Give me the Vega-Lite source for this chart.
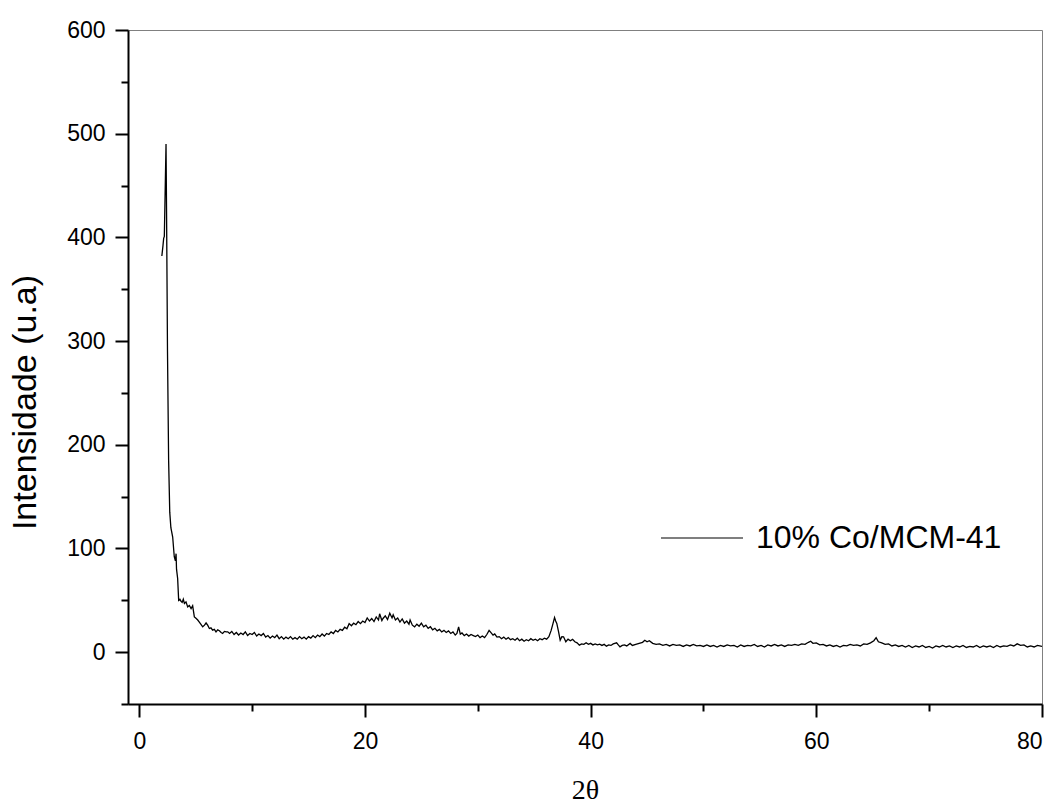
{
  "$schema": "https://vega.github.io/schema/vega-lite/v6.json",
  "width": 914,
  "height": 674,
  "autosize": {"type": "none"},
  "padding": {"left": 128, "top": 30, "right": 18, "bottom": 101},
  "background": "white",
  "config": {
    "view": {"stroke": "#808080", "strokeWidth": 1},
    "font": "Liberation Sans"
  },
  "data": {"values": [
    {"x":2.0,"y":382},{"x":2.1,"y":392},{"x":2.16,"y":399},{"x":2.22,"y":401},{"x":2.37,"y":490},{"x":2.42,"y":420},{"x":2.5,"y":290},{"x":2.6,"y":185},{"x":2.7,"y":135},{"x":2.8,"y":120},{"x":2.96,"y":111},{"x":3.1,"y":92},{"x":3.2,"y":88},{"x":3.26,"y":95},{"x":3.3,"y":80},{"x":3.4,"y":71},{"x":3.49,"y":50},{"x":3.6,"y":51},{"x":3.7,"y":49},{"x":3.8,"y":48},{"x":3.9,"y":51},{"x":4.0,"y":47},{"x":4.14,"y":48.5},{"x":4.29,"y":43.7},{"x":4.44,"y":45},{"x":4.59,"y":42},{"x":4.73,"y":44.7},{"x":4.88,"y":34},{"x":5.0,"y":33},{"x":5.18,"y":31},{"x":5.32,"y":29},{"x":5.45,"y":27},{"x":5.62,"y":24.4},{"x":5.78,"y":26},{"x":5.92,"y":28.3},{"x":6.06,"y":26},{"x":6.21,"y":22.8},{"x":6.35,"y":23.5},{"x":6.5,"y":21.2},{"x":6.65,"y":22},{"x":6.8,"y":19.6},{"x":6.95,"y":21.5},{"x":7.1,"y":20.6},{"x":7.25,"y":19},{"x":7.39,"y":18},{"x":7.55,"y":20},{"x":7.7,"y":19.6},{"x":7.84,"y":19.6},
    {"x":8.0,"y":18},{"x":8.2,"y":20},{"x":8.4,"y":17},{"x":8.6,"y":19},{"x":8.8,"y":16.5},{"x":9.0,"y":18.5},{"x":9.2,"y":17},{"x":9.4,"y":19.5},{"x":9.6,"y":16},{"x":9.8,"y":18},{"x":10.0,"y":17},{"x":10.2,"y":19},{"x":10.4,"y":15.5},{"x":10.6,"y":17.5},{"x":10.8,"y":16},{"x":11.0,"y":18},{"x":11.2,"y":14.5},{"x":11.4,"y":16},{"x":11.6,"y":13.5},{"x":11.8,"y":15.5},{"x":12.0,"y":14},{"x":12.2,"y":16.5},{"x":12.4,"y":13},{"x":12.6,"y":15},{"x":12.8,"y":12.5},{"x":13.0,"y":14.5},{"x":13.2,"y":13},{"x":13.4,"y":15},{"x":13.6,"y":12.5},{"x":13.8,"y":14},{"x":14.0,"y":12.5},{"x":14.2,"y":15},{"x":14.4,"y":13},{"x":14.6,"y":14.5},{"x":14.8,"y":12.5},{"x":15.0,"y":15},{"x":15.2,"y":13.5},{"x":15.4,"y":16},{"x":15.6,"y":14},{"x":15.8,"y":16.5},{"x":16.0,"y":15},{"x":16.2,"y":17.5},{"x":16.4,"y":15.5},{"x":16.6,"y":18},{"x":16.8,"y":17},{"x":17.0,"y":19.5},{"x":17.2,"y":18},{"x":17.4,"y":21},{"x":17.6,"y":19.5},{"x":17.8,"y":22},{"x":18.0,"y":21},{"x":18.2,"y":24},{"x":18.4,"y":22.5},{"x":18.6,"y":27.5},{"x":18.8,"y":25.5},{"x":19.0,"y":28},{"x":19.2,"y":26.5},{"x":19.4,"y":29.5},{"x":19.6,"y":27.5},{"x":19.8,"y":30},{"x":20.0,"y":28.5},{"x":20.2,"y":33},{"x":20.4,"y":30},{"x":20.6,"y":32.5},{"x":20.8,"y":29.5},{"x":21.0,"y":34},{"x":21.2,"y":31},{"x":21.3,"y":37},{"x":21.5,"y":30.5},{"x":21.6,"y":32.5},{"x":21.8,"y":35},{"x":22.0,"y":31.5},{"x":22.2,"y":37.5},{"x":22.4,"y":33},{"x":22.5,"y":36},{"x":22.7,"y":31},{"x":22.9,"y":33},{"x":23.1,"y":29},{"x":23.3,"y":32},{"x":23.5,"y":28},{"x":23.7,"y":30},{"x":23.9,"y":27},{"x":24.0,"y":31},{"x":24.2,"y":26},{"x":24.4,"y":24.4},{"x":24.6,"y":27},{"x":24.8,"y":25},{"x":25.0,"y":28},{"x":25.2,"y":24.5},{"x":25.4,"y":26},{"x":25.6,"y":23},{"x":25.8,"y":24.5},{"x":26.0,"y":21.5},{"x":26.2,"y":23},{"x":26.4,"y":20.5},{"x":26.6,"y":22},{"x":26.8,"y":19.5},{"x":27.0,"y":21},{"x":27.2,"y":19},{"x":27.4,"y":20.5},{"x":27.6,"y":18},{"x":27.8,"y":19.5},{"x":28.0,"y":16.5},{"x":28.15,"y":18},{"x":28.3,"y":24.4},{"x":28.45,"y":17.4},{"x":28.6,"y":18.5},{"x":28.8,"y":16},{"x":29.0,"y":17.5},{"x":29.2,"y":15.5},{"x":29.4,"y":17},{"x":29.6,"y":16},{"x":29.8,"y":15},{"x":30.0,"y":16.5},{"x":30.2,"y":14},{"x":30.4,"y":15.5},{"x":30.6,"y":14},{"x":30.8,"y":17},{"x":31.0,"y":21},{"x":31.15,"y":19},{"x":31.35,"y":16.4},{"x":31.5,"y":17.5},{"x":31.7,"y":14.5},{"x":31.9,"y":15},{"x":32.1,"y":13},{"x":32.3,"y":14.5},{"x":32.5,"y":12.5},{"x":32.7,"y":14},{"x":32.9,"y":12},{"x":33.1,"y":13},{"x":33.3,"y":11.5},{"x":33.5,"y":13.5},{"x":33.7,"y":11},{"x":33.9,"y":12.5},{"x":34.1,"y":10.5},{"x":34.3,"y":12},{"x":34.5,"y":11},{"x":34.7,"y":13},{"x":34.9,"y":11.5},{"x":35.1,"y":12.5},{"x":35.3,"y":11},{"x":35.5,"y":13},{"x":35.7,"y":12},{"x":35.9,"y":13.5},{"x":36.1,"y":12.5},{"x":36.3,"y":15},{"x":36.5,"y":21},{"x":36.65,"y":27},{"x":36.8,"y":33.4},{"x":36.9,"y":30},{"x":37.0,"y":27.7},{"x":37.15,"y":20},{"x":37.3,"y":11.6},{"x":37.45,"y":15},{"x":37.6,"y":14.8},{"x":37.8,"y":10},{"x":38.0,"y":12.5},{"x":38.2,"y":11},{"x":38.4,"y":12.3},{"x":38.6,"y":10},{"x":38.8,"y":9},{"x":39.0,"y":6.8},{"x":39.2,"y":8},{"x":39.4,"y":7.5},{"x":39.6,"y":9},{"x":39.8,"y":7.5},{"x":40.0,"y":8.5},{"x":40.2,"y":7},{"x":40.4,"y":8},{"x":40.6,"y":7},{"x":40.8,"y":7.7},{"x":41.0,"y":6.5},{"x":41.2,"y":7.5},{"x":41.4,"y":5.8},{"x":41.6,"y":7},{"x":41.8,"y":6.5},{"x":42.0,"y":8},{"x":42.3,"y":9},{"x":42.45,"y":7},{"x":42.6,"y":5.1},{"x":42.8,"y":6.5},{"x":43.0,"y":7},{"x":43.2,"y":6},{"x":43.5,"y":8.4},{"x":43.7,"y":6.5},{"x":44.0,"y":7.5},
    {"x":44.3,"y":8.5},{"x":44.6,"y":9.5},{"x":44.8,"y":11.5},{"x":45.0,"y":10},{"x":45.2,"y":11},{"x":45.5,"y":8.5},{"x":45.8,"y":7.5},{"x":46.1,"y":8},{"x":46.4,"y":6.5},{"x":46.7,"y":7.5},{"x":47.0,"y":6},{"x":47.3,"y":7.5},{"x":47.6,"y":6.5},{"x":47.9,"y":7},{"x":48.2,"y":5.5},{"x":48.5,"y":7},{"x":48.8,"y":6},{"x":49.1,"y":7.5},{"x":49.4,"y":6},{"x":49.7,"y":6.5},{"x":50.0,"y":5.5},{"x":50.3,"y":7},{"x":50.6,"y":5.5},{"x":50.9,"y":6.5},{"x":51.2,"y":5},{"x":51.5,"y":6.5},{"x":51.8,"y":5.5},{"x":52.1,"y":7},{"x":52.4,"y":6},{"x":52.7,"y":6.5},{"x":53.0,"y":5},{"x":53.3,"y":7},{"x":53.6,"y":5.5},{"x":53.9,"y":6.5},{"x":54.2,"y":6},{"x":54.5,"y":7.5},{"x":54.8,"y":5.5},{"x":55.1,"y":6.5},{"x":55.4,"y":5},{"x":55.7,"y":7},{"x":56.0,"y":6},{"x":56.3,"y":7.5},{"x":56.6,"y":6},{"x":56.9,"y":7},{"x":57.2,"y":5.5},{"x":57.5,"y":7},{"x":57.8,"y":6.5},{"x":58.1,"y":7.5},{"x":58.4,"y":6.5},{"x":58.7,"y":8},{"x":59.0,"y":7.5},{"x":59.3,"y":9.5},{"x":59.5,"y":10.5},{"x":59.7,"y":8.5},{"x":60.0,"y":9},{"x":60.3,"y":7},{"x":60.6,"y":7.5},{"x":60.9,"y":6},{"x":61.2,"y":7},{"x":61.5,"y":5.5},{"x":61.8,"y":6.5},{"x":62.1,"y":5},{"x":62.4,"y":6.5},{"x":62.7,"y":6},{"x":63.0,"y":7.5},{"x":63.3,"y":6.5},{"x":63.6,"y":7},{"x":63.9,"y":6},{"x":64.2,"y":8},{"x":64.5,"y":7.5},{"x":64.8,"y":9},{"x":65.1,"y":11},{"x":65.3,"y":14},{"x":65.5,"y":10},{"x":65.8,"y":9},{"x":66.1,"y":7.5},{"x":66.4,"y":8},{"x":66.7,"y":6},{"x":67.0,"y":7},{"x":67.3,"y":5.5},{"x":67.6,"y":6.5},{"x":67.9,"y":5},{"x":68.2,"y":6.5},{"x":68.5,"y":4.5},{"x":68.8,"y":6},{"x":69.1,"y":5},{"x":69.4,"y":6.5},{"x":69.7,"y":4.5},{"x":70.0,"y":5.5},{"x":70.3,"y":4},{"x":70.6,"y":6},{"x":70.9,"y":5},{"x":71.2,"y":6.5},{"x":71.5,"y":5},{"x":71.8,"y":6},{"x":72.1,"y":4.5},{"x":72.4,"y":6},{"x":72.7,"y":5},{"x":73.0,"y":6.5},{"x":73.3,"y":4.5},{"x":73.6,"y":5.5},{"x":73.9,"y":5},{"x":74.2,"y":6.5},{"x":74.5,"y":4.5},{"x":74.8,"y":6},{"x":75.1,"y":5},{"x":75.4,"y":6},{"x":75.7,"y":4.5},{"x":76.0,"y":6.5},{"x":76.3,"y":5},{"x":76.6,"y":6},{"x":76.9,"y":5.5},{"x":77.2,"y":7},{"x":77.5,"y":6},{"x":77.8,"y":8},{"x":78.1,"y":6.5},{"x":78.4,"y":7},{"x":78.7,"y":5},{"x":79.0,"y":6},{"x":79.3,"y":5},{"x":79.6,"y":6.5},{"x":80.0,"y":5.5}
  ]},
  "resolve": {"axis": {"x": "independent", "y": "independent"}},
  "layer": [
    {
      "mark": {"type": "line", "strokeWidth": 1.3, "clip": true, "interpolate": "linear"},
      "encoding": {
        "x": {"field": "x", "type": "quantitative",
          "scale": {"domain": [-1, 80], "nice": false, "zero": false},
          "axis": {"orient": "bottom", "values": [0, 20, 40, 60, 80], "grid": false,
            "domainColor": "black", "domainWidth": 2, "tickColor": "black", "tickWidth": 2, "tickSize": 13,
            "labelFont": "Liberation Sans", "labelFontSize": 23, "labelColor": "black", "labelPadding": 13,
            "title": "2θ", "titleFont": "Liberation Serif", "titleFontSize": 28, "titleFontWeight": "normal",
            "titleColor": "black", "titlePadding": 23}},
        "y": {"field": "y", "type": "quantitative",
          "scale": {"domain": [-50, 600], "nice": false, "zero": false},
          "axis": {"orient": "left", "values": [0, 100, 200, 300, 400, 500, 600], "grid": false,
            "domainColor": "black", "domainWidth": 2, "tickColor": "black", "tickWidth": 2, "tickSize": 13,
            "labelFont": "Liberation Sans", "labelFontSize": 23, "labelColor": "black", "labelPadding": 10,
            "title": "Intensidade (u.a)", "titleFont": "Liberation Sans", "titleFontSize": 34, "titleFontWeight": "normal",
            "titleColor": "black", "titleX": -86, "titleY": 372, "titleAngle": 270, "titleBaseline": "bottom", "titleAlign": "center"}},
        "color": {"datum": "10% Co/MCM-41", "type": "nominal",
          "scale": {"range": ["black"]},
          "legend": {"orient": "none", "legendX": 532, "legendY": 466, "title": null, "padding": 0,
            "symbolType": "stroke", "symbolSize": 6724, "symbolStrokeWidth": 1.2,
            "labelFont": "Liberation Sans", "labelFontSize": 32, "labelColor": "black", "labelOffset": 12, "labelLimit": 400}}
      }
    },
    {
      "mark": {"type": "line", "strokeOpacity": 0, "clip": true},
      "encoding": {
        "x": {"field": "x", "type": "quantitative",
          "axis": {"orient": "bottom", "values": [10, 30, 50, 70], "grid": false, "domain": false, "labels": false,
            "tickColor": "black", "tickWidth": 2, "tickSize": 7, "title": null}},
        "y": {"field": "y", "type": "quantitative",
          "axis": {"orient": "left", "values": [-50, 50, 150, 250, 350, 450, 550], "grid": false, "domain": false, "labels": false,
            "tickColor": "black", "tickWidth": 2, "tickSize": 7, "title": null}}
      }
    }
  ]
}
